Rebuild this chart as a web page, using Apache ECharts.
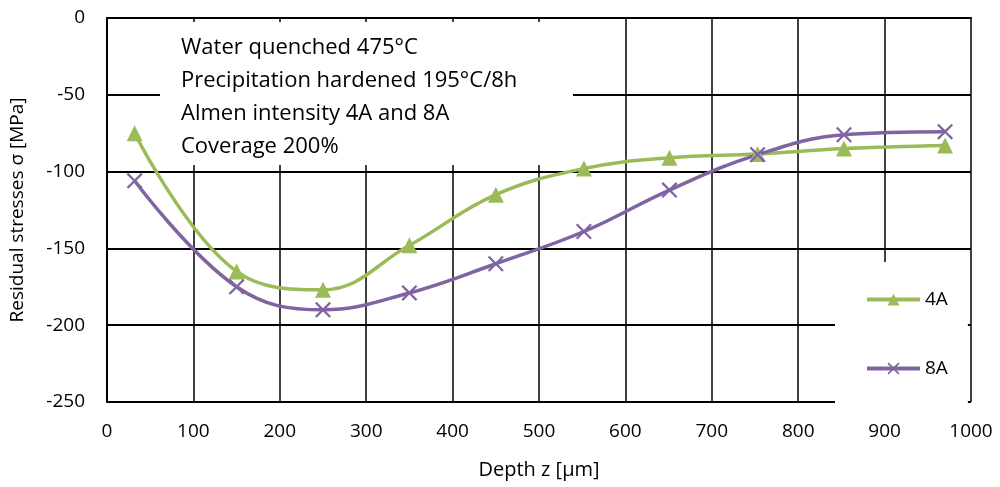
<!DOCTYPE html>
<html><head><meta charset="utf-8">
<script src="https://cdn.jsdelivr.net/npm/echarts@6/dist/echarts.min.js"></script>
<style>html,body{margin:0;padding:0;background:#fff}#c{width:1000px;height:487px}</style>
</head><body><div id="c"></div>
<script>
const depth = [32, 150, 250, 350, 450, 552, 651, 753, 853, 970];
const s4A = [-75, -165, -177, -148, -115, -98, -91, -88.5, -85, -83];
const s8A = [-106, -175, -190, -179, -160, -139, -112, -89, -76, -74];
const yTicks = [0, -50, -100, -150, -200, -250];
const noteLines = ['Water quenched 475°C', 'Precipitation hardened 195°C/8h', 'Almen intensity 4A and 8A', 'Coverage 200%'];

const FONT = '"Open Sans", "Noto Sans", sans-serif';
const crossPath = 'path://M0,1L1,0L5,4L9,0L10,1L6,5L10,9L9,10L5,6L1,10L0,9L4,5Z';
const chart = echarts.init(document.getElementById('c'));
chart.setOption({
  animation: false,
  backgroundColor: '#fff',
  textStyle: { fontFamily: FONT },
  grid: { left: 105, right: 29, top: 18, bottom: 85, containLabel: false },
  xAxis: {
    type: 'value', min: 0, max: 1000, interval: 100,
    name: 'Depth z [µm]', nameLocation: 'middle', nameGap: 58,
    nameTextStyle: { fontSize: 20, color: '#000', fontFamily: FONT },
    axisLine: { lineStyle: { color: '#000', width: 2 } },
    axisTick: { show: false },
    axisLabel: { fontSize: 19, color: '#000', margin: 20, fontFamily: FONT,
      formatter: v => String(v) },
    splitLine: { show: true, lineStyle: { color: '#000', width: 1.5 } }
  },
  yAxis: {
    type: 'value', min: -250, max: 0, interval: 50,
    name: 'Residual stresses σ [MPa]', nameLocation: 'middle', nameGap: 80,
    nameTextStyle: { fontSize: 19, color: '#000', fontFamily: FONT },
    axisLine: { show: true, lineStyle: { color: '#000', width: 2 } },
    axisTick: { show: false },
    axisLabel: { fontSize: 19, color: '#000', margin: 22, fontFamily: FONT,
      formatter: v => yTicks.includes(v) ? String(v) : '' },
    splitLine: { show: true, lineStyle: { color: '#000', width: 2 } }
  },
  legend: {
    orient: 'vertical', left: 835, top: 262,
    padding: [28, 20, 28, 30],
    backgroundColor: '#fff',
    itemWidth: 53, itemHeight: 15, itemGap: 50,
    lineStyle: { width: 4 },
    textStyle: { fontSize: 19, color: '#000', fontFamily: FONT },
    data: ['4A', '8A']
  },
  graphic: [{
    type: 'group', left: 160, top: 22, z: 100,
    children: [
      { type: 'rect', z: 100, shape: { x: 0, y: 0, width: 413, height: 143 }, style: { fill: '#fff' } },
      { type: 'text', z: 101, left: 21, top: 9, style: { text: noteLines.join('\n'), lineHeight: 33,
        font: '22px ' + FONT, fill: '#000' } }
    ]
  }],
  series: [
    { name: '4A', type: 'line', smooth: 0.4, z: 5,
      data: depth.map((d, i) => [d, s4A[i]]),
      symbol: 'triangle', symbolSize: 16,
      lineStyle: { color: '#9BBB59', width: 3.5 },
      itemStyle: { color: '#9BBB59' } },
    { name: '8A', type: 'line', smooth: 0.4, z: 5,
      data: depth.map((d, i) => [d, s8A[i]]),
      symbol: crossPath, symbolSize: 16,
      lineStyle: { color: '#8064A2', width: 3.5 },
      itemStyle: { color: '#8064A2' } }
  ]
});
</script></body></html>
